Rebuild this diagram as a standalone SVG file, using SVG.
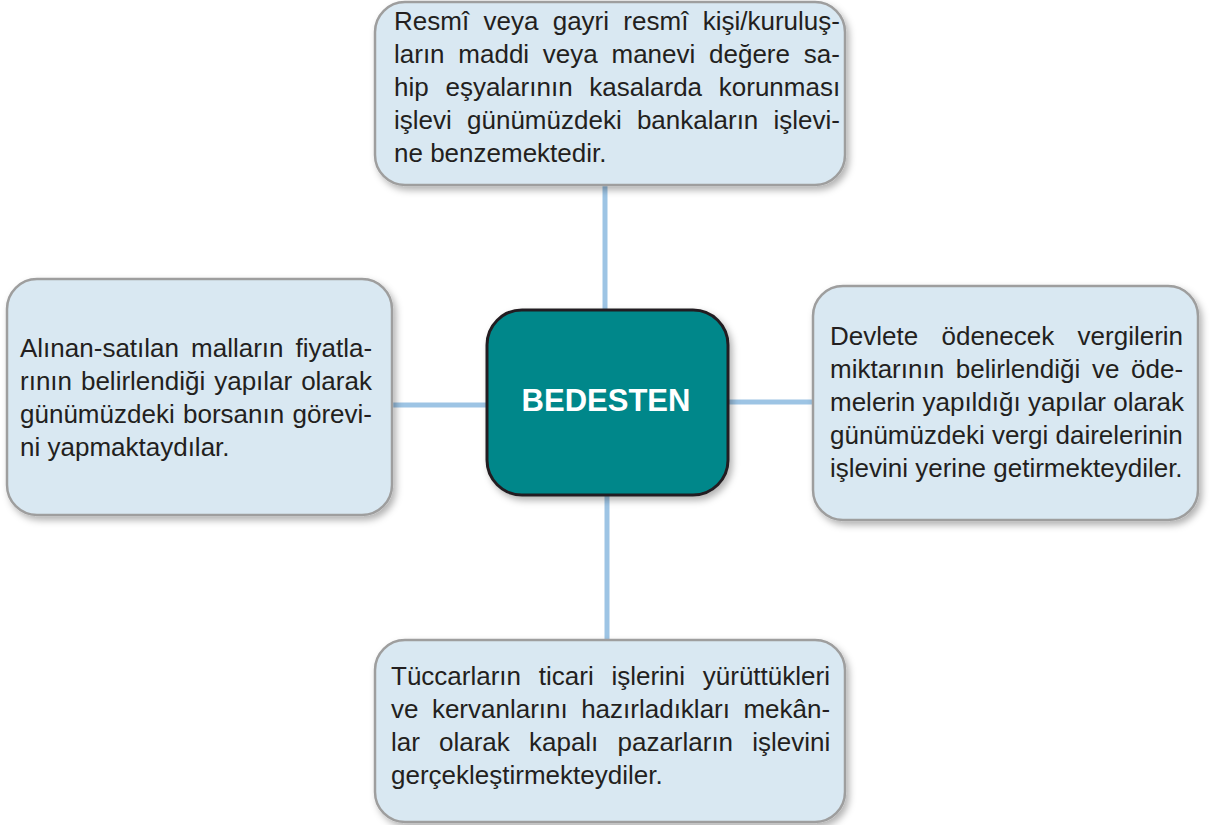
<svg xmlns="http://www.w3.org/2000/svg" width="1210" height="825" viewBox="0 0 1210 825">
<style>
.box{fill:#d9e8f2;stroke:#9e9e9e;stroke-width:2.5;filter:url(#sh)}
.hub{fill:#00878a;stroke:#231f20;stroke-width:3;filter:url(#sh)}
.t{font-family:"Liberation Sans",Arial,sans-serif;font-size:26px;fill:#231f20}
.h{font-family:"Liberation Sans",Arial,sans-serif;font-size:31px;font-weight:bold;fill:#ffffff}
.c{stroke:#9dc4e4;stroke-width:5;fill:none}
</style>
<defs>
<filter id="sh" x="-10%" y="-10%" width="125%" height="125%">
<feDropShadow dx="3" dy="4" stdDeviation="3.5" flood-color="#000" flood-opacity="0.3"/>
</filter>
</defs>
<rect width="1210" height="825" fill="#ffffff"/>
<g id="connectors">
<line class="c" x1="605" y1="185" x2="605" y2="310"/>
<line class="c" x1="392" y1="405" x2="487" y2="405"/>
<line class="c" x1="728" y1="402" x2="813" y2="402"/>
<line class="c" x1="607" y1="495" x2="607" y2="640"/>
</g>
<g id="top">
<rect class="box" x="375" y="2" width="470" height="183" rx="30"/>
<text class="t">
<tspan x="394" y="30" style="word-spacing:7.1px">Resmî veya gayri resmî kişi/kuruluş-</tspan>
<tspan x="394" y="63" style="word-spacing:6.5px">ların maddi veya manevi değere sa-</tspan>
<tspan x="394" y="96" style="word-spacing:9.5px">hip eşyalarının kasalarda korunması</tspan>
<tspan x="394" y="129" style="word-spacing:8px">işlevi günümüzdeki bankaların işlevi-</tspan>
<tspan x="394" y="162">ne benzemektedir.</tspan>
</text>
</g>
<g id="left">
<rect class="box" x="7" y="279" width="385" height="236" rx="30"/>
<text class="t">
<tspan x="20" y="357" style="word-spacing:4.8px">Alınan-satılan malların fiyatla-</tspan>
<tspan x="20" y="390" style="word-spacing:1.7px">rının belirlendiği yapılar olarak</tspan>
<tspan x="20" y="423" style="word-spacing:1.1px">günümüzdeki borsanın görevi-</tspan>
<tspan x="20" y="456">ni yapmaktaydılar.</tspan>
</text>
</g>
<g id="right">
<rect class="box" x="813" y="286" width="385" height="234" rx="30"/>
<text class="t">
<tspan x="830" y="345" style="word-spacing:16.1px">Devlete ödenecek vergilerin</tspan>
<tspan x="830" y="378" style="word-spacing:4.5px">miktarının belirlendiği ve öde-</tspan>
<tspan x="830" y="411">melerin yapıldığı yapılar olarak</tspan>
<tspan x="830" y="444">günümüzdeki vergi dairelerinin</tspan>
<tspan x="830" y="477">işlevini yerine getirmekteydiler.</tspan>
</text>
</g>
<g id="bottom">
<rect class="box" x="375" y="640" width="470" height="182" rx="30"/>
<text class="t">
<tspan x="391" y="685" style="word-spacing:10.5px">Tüccarların ticari işlerini yürüttükleri</tspan>
<tspan x="391" y="718" style="word-spacing:6.2px">ve kervanlarını hazırladıkları mekân-</tspan>
<tspan x="391" y="751" style="word-spacing:11.9px">lar olarak kapalı pazarların işlevini</tspan>
<tspan x="391" y="784">gerçekleştirmekteydiler.</tspan>
</text>
</g>
<g id="hub">
<rect class="hub" x="487" y="310" width="241" height="185" rx="35"/>
<text class="h" x="606" y="411" text-anchor="middle">BEDESTEN</text>
</g>
</svg>
